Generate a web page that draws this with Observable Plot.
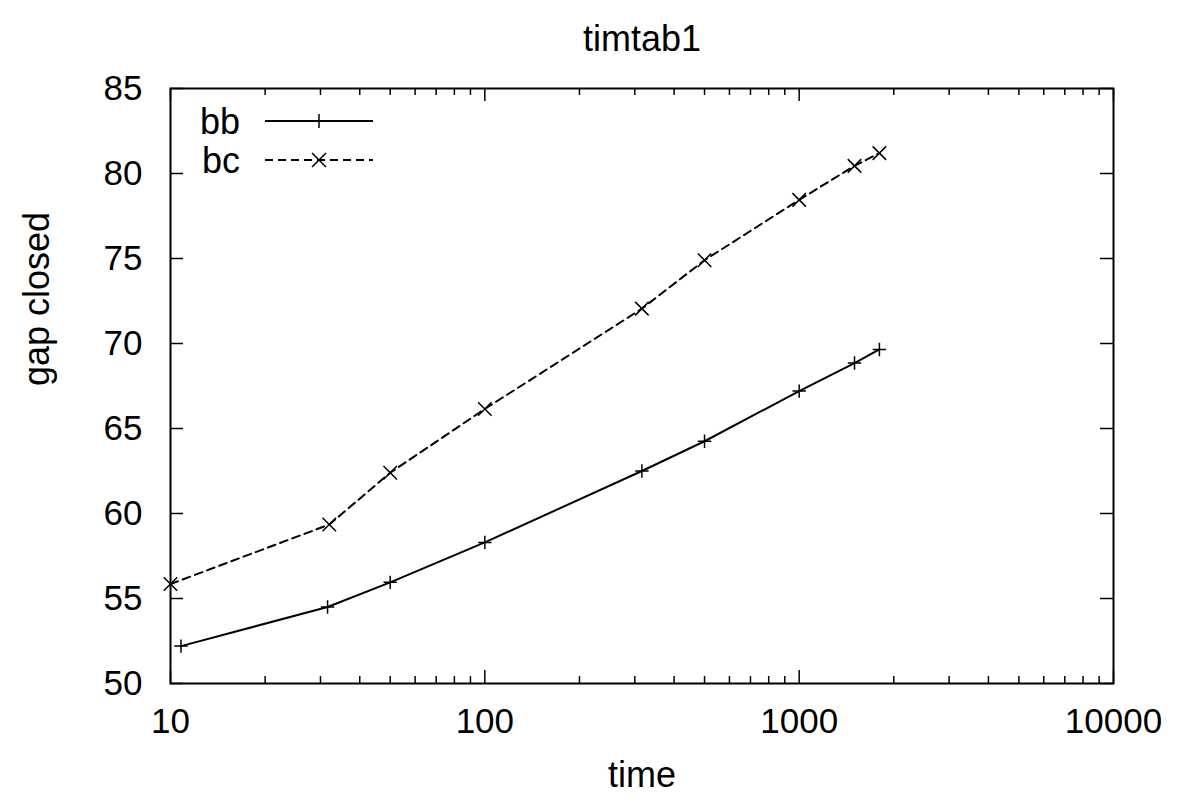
<!DOCTYPE html>
<html><head><meta charset="utf-8">
<script src="https://cdn.jsdelivr.net/npm/d3@7"></script>
<script src="https://cdn.jsdelivr.net/npm/@observablehq/plot@0.6"></script>
<style>body{margin:0;background:#fff}</style>
</head><body><div id="chart"></div>
<script>
const title = "timtab1";
const xLabel = "time";
const yLabel = "gap closed";
const seriesNames = ["bb", "bc"];
const bbTime = [10.8, 31.6, 50, 100, 316, 500, 1000, 1500, 1800];
const bbGap  = [52.2, 54.5, 55.95, 58.3, 62.5, 64.25, 67.2, 68.85, 69.65];
const bcTime = [10, 32, 50, 100, 316, 500, 1000, 1500, 1800];
const bcGap  = [55.85, 59.35, 62.4, 66.15, 72.05, 74.9, 78.45, 80.45, 81.2];
const xMajor = [10, 100, 1000, 10000];
const xMinor = [20,30,40,50,60,70,80,90,200,300,400,500,600,700,800,900,2000,3000,4000,5000,6000,7000,8000,9000];
const yTicks = [50, 55, 60, 65, 70, 75, 80, 85];

const W = 1177, H = 805, mL = 170, mR = 64, mT = 88, mB = 122;
const fw = W - mL - mR, fh = H - mT - mB;
const font = "'Liberation Sans', Arial, Helvetica, sans-serif";
const bbRows = bbTime.map((t, i) => ({time: t, gap: bbGap[i]}));
const bcRows = bcTime.map((t, i) => ({time: t, gap: bcGap[i]}));
const tk = {stroke: "#000", strokeWidth: 1.5};

const svg = Plot.plot({
  width: W, height: H,
  marginLeft: mL, marginRight: mR, marginTop: mT, marginBottom: mB,
  style: {fontFamily: font, fontSize: "35px", color: "#000", background: "#fff"},
  x: {type: "log", domain: [10, 10000]},
  y: {domain: [50, 85]},
  marks: [
    Plot.ruleX(xMajor, {...tk, insetTop: fh - 13}),
    Plot.ruleX(xMajor, {...tk, insetBottom: fh - 13}),
    Plot.ruleX(xMinor, {...tk, insetTop: fh - 7}),
    Plot.ruleX(xMinor, {...tk, insetBottom: fh - 7}),
    Plot.ruleY(yTicks, {...tk, insetRight: fw - 13}),
    Plot.ruleY(yTicks, {...tk, insetLeft: fw - 13}),
    Plot.axisX({ticks: xMajor, tickSize: 0, tickPadding: 25, tickFormat: d => String(d), label: null, fontSize: 35}),
    Plot.axisY({ticks: yTicks, tickSize: 0, tickPadding: 28, label: null, fontSize: 35}),
    Plot.line(bbRows, {x: "time", y: "gap", stroke: "#000", strokeWidth: 2}),
    Plot.line(bcRows, {x: "time", y: "gap", stroke: "#000", strokeWidth: 2, strokeDasharray: "8,5"}),
    Plot.dot(bbRows, {x: "time", y: "gap", symbol: "plus", r: 4.4, stroke: "#000", strokeWidth: 1.5}),
    Plot.dot(bcRows, {x: "time", y: "gap", symbol: "times", r: 6.2, stroke: "#000", strokeWidth: 1.5}),
    Plot.frame({stroke: "#000", strokeWidth: 2}),
    Plot.text([title], {frameAnchor: "top", dy: -63, fontSize: 36}),
    Plot.text([xLabel], {frameAnchor: "bottom", dy: 103, fontSize: 36}),
    Plot.text([yLabel], {frameAnchor: "left", dx: -133, rotate: -90, fontSize: 36})
  ]
});
document.getElementById("chart").appendChild(svg);

// legend (gnuplot-style key inside the frame)
const g = d3.select(svg).append("g").attr("font-family", font).attr("font-size", 36);
const styles = [{dash: null, sym: d3.symbolPlus, size: 66}, {dash: "8,5", sym: d3.symbolTimes, size: 130}];
seriesNames.forEach((name, i) => {
  const y = 121 + i * 39;
  g.append("text").attr("x", 240).attr("y", y).attr("dy", "0.36em").attr("text-anchor", "end").text(name);
  g.append("line").attr("x1", 265).attr("x2", 373).attr("y1", y).attr("y2", y)
    .attr("stroke", "#000").attr("stroke-width", 2).attr("stroke-dasharray", styles[i].dash);
  g.append("path").attr("d", d3.symbol(styles[i].sym, styles[i].size)()).attr("transform", `translate(319,${y})`)
    .attr("fill", "none").attr("stroke", "#000").attr("stroke-width", 1.5);
});
</script>
</body></html>
